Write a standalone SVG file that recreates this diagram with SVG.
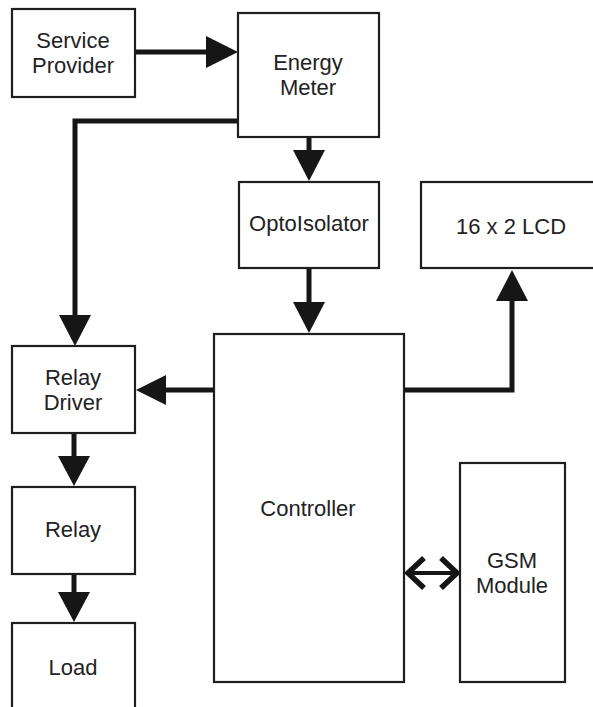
<svg xmlns="http://www.w3.org/2000/svg" width="593" height="707" viewBox="0 0 593 707">
<style>
.box{fill:#fff;stroke:#1e1e1e;stroke-width:2.2}
.t{font-family:"Liberation Sans",Arial,sans-serif;font-size:22px;fill:#222;text-anchor:middle}
.ln{fill:none;stroke:#161616;stroke-width:5}
.hd{fill:#161616;stroke:none}
.ch{fill:none;stroke:#161616;stroke-width:5.5;stroke-linejoin:miter}
</style>
<rect width="593" height="707" fill="#fff"/>
<g id="connectors">
<line class="ln" x1="135" y1="52" x2="209" y2="52"/>
<polygon class="hd" points="238,52 206,36 206,68"/>
<path class="ln" d="M238,121 H75 V318"/>
<polygon class="hd" points="75,346 59,315 91,315"/>
<line class="ln" x1="309" y1="137" x2="309" y2="152"/>
<polygon class="hd" points="309,181 293,150 325,150"/>
<line class="ln" x1="309" y1="268" x2="309" y2="305"/>
<polygon class="hd" points="309,333 293,302 325,302"/>
<line class="ln" x1="214" y1="390" x2="164" y2="390"/>
<polygon class="hd" points="136,390 166,375 166,405"/>
<path class="ln" d="M404,390 H512 V298"/>
<polygon class="hd" points="512,270 496,301 528,301"/>
<line class="ln" x1="74" y1="433" x2="74" y2="458"/>
<polygon class="hd" points="74,486 58,456 90,456"/>
<line class="ln" x1="74" y1="574" x2="74" y2="594"/>
<polygon class="hd" points="74,622 58,592 90,592"/>
<line class="ln" x1="407" y1="573" x2="457" y2="573" style="stroke-width:4"/>
<polyline class="ch" points="424,558 408,573 424,588"/>
<polyline class="ch" points="441,558 457,573 441,588"/>
</g>
<g id="service-provider">
<rect class="box" x="12" y="9" width="123" height="88"/>
<text class="t" x="73" y="48">Service</text>
<text class="t" x="73" y="73">Provider</text>
</g>
<g id="energy-meter">
<rect class="box" x="238" y="13" width="141" height="124"/>
<text class="t" x="308" y="70">Energy</text>
<text class="t" x="308" y="95">Meter</text>
</g>
<g id="optoisolator">
<rect class="box" x="239" y="182" width="140" height="86"/>
<text class="t" x="309" y="231">OptoIsolator</text>
</g>
<g id="lcd">
<rect class="box" x="421" y="182" width="180" height="86"/>
<text class="t" x="511" y="234">16 x 2 LCD</text>
</g>
<g id="controller">
<rect class="box" x="214" y="334" width="190" height="348"/>
<text class="t" x="308" y="516">Controller</text>
</g>
<g id="relay-driver">
<rect class="box" x="12" y="346" width="123" height="87"/>
<text class="t" x="73" y="385">Relay</text>
<text class="t" x="73" y="410">Driver</text>
</g>
<g id="relay">
<rect class="box" x="12" y="487" width="123" height="87"/>
<text class="t" x="73" y="537">Relay</text>
</g>
<g id="load">
<rect class="box" x="12" y="623" width="123" height="95"/>
<text class="t" x="73" y="675">Load</text>
</g>
<g id="gsm-module">
<rect class="box" x="460" y="463" width="105" height="219"/>
<text class="t" x="512" y="568">GSM</text>
<text class="t" x="512" y="593">Module</text>
</g>
</svg>
